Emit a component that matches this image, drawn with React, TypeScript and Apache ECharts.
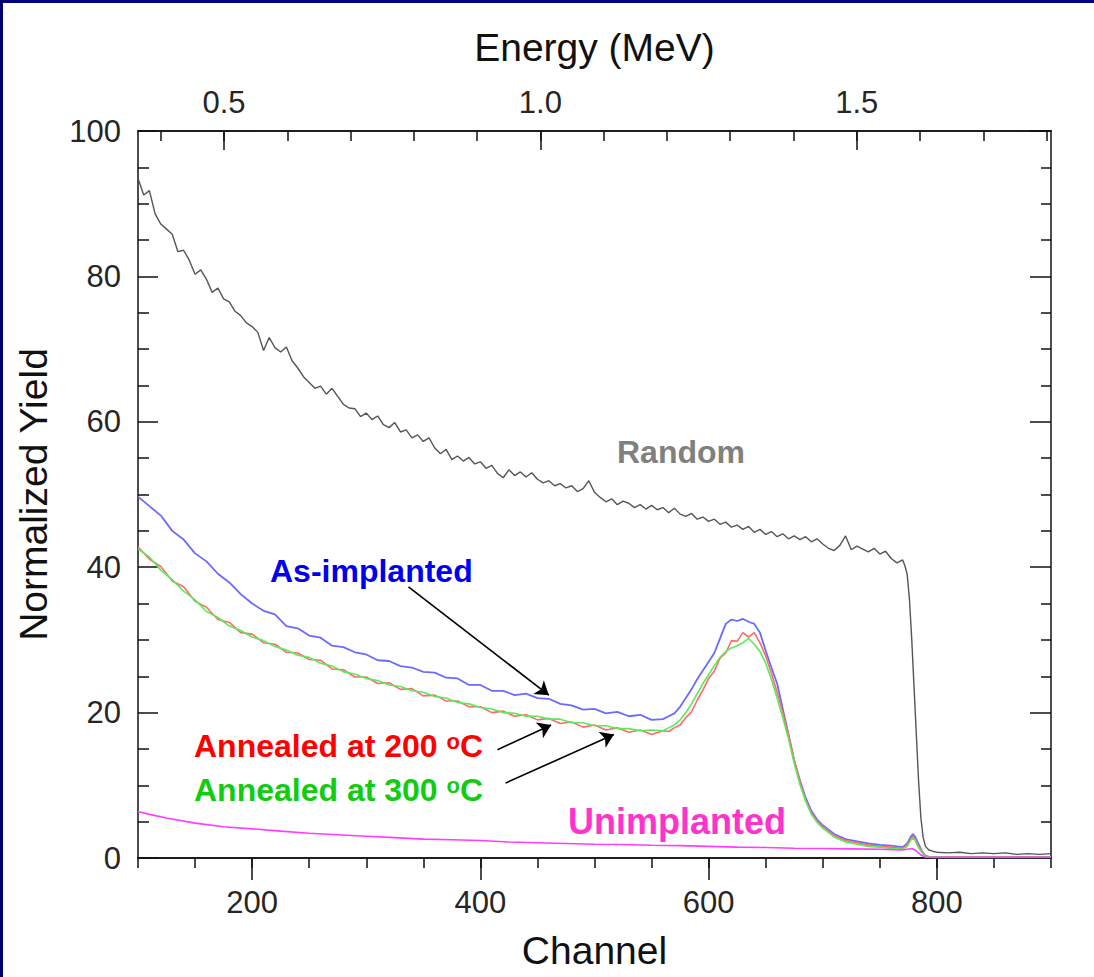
import React, { useEffect, useRef } from "react";
import * as echarts from "echarts";

// ---------- DATA ----------
// Random spectrum: regular 5-channel grid 100..770, then the edge drop and tail
const randomGridStart = 100;
const randomGridStep = 5;
const randomMainYield = [
  93.5, 91.2, 91.8, 88.6, 87.2, 86.5, 85.8, 83.4, 83.6, 82.2,
  80.3, 80.9, 79.6, 77.8, 78.4, 76.9, 76.5, 75.2, 74.6, 73.6,
  73.1, 72.3, 69.8, 71.6, 70.2, 69.6, 70.3, 68.4, 67.4, 66.2,
  65.4, 64.6, 64.9, 63.8, 64.6, 63.5, 62.4, 61.9, 61.8, 60.7,
  61.2, 60.3, 60.8, 59.6, 59.2, 59.9, 58.6, 58.9, 57.8, 58.2,
  57.3, 57.8, 56.4, 55.6, 56.2, 54.8, 55.3, 54.6, 55.1, 54.2,
  54.5, 53.6, 54.0, 52.9, 52.3, 53.4, 52.6, 53.1, 52.4, 53.0,
  52.1, 51.6, 51.9, 51.2, 51.5, 50.9, 51.2, 50.4, 50.8, 51.9,
  50.3, 49.6, 49.0, 49.4, 48.6, 49.1, 48.8, 48.2, 48.6, 48.0,
  48.5, 47.9, 48.2, 47.5, 48.1, 47.3, 47.0, 47.4, 46.6, 46.9,
  46.3, 46.6, 45.9, 46.2, 45.5, 45.8, 45.2, 45.6, 44.8, 45.2,
  44.5, 44.9, 44.2, 44.6, 43.9, 44.3, 43.8, 44.2, 43.5, 43.9,
  43.2, 42.6, 42.3, 43.0, 44.3, 42.4, 42.9, 42.5, 42.1, 42.6,
  41.8, 42.2, 41.2, 40.6, 41.0,
];
const randomTailChannels = [772, 774, 776, 778, 780, 782, 784, 786, 788, 790, 793, 797, 800, 810, 820, 830, 840, 850, 860, 870, 880, 890, 900];
const randomTailYield = [40.2, 39.0, 35.5, 30.0, 23.5, 17.0, 10.5, 5.5, 2.8, 1.6, 1.1, 0.9, 0.8, 0.7, 0.8, 0.6, 0.7, 0.6, 0.7, 0.5, 0.6, 0.5, 0.6];

// Implanted / annealed spectra share one channel list
const implChannels = [
  100, 110, 120, 130, 140, 150, 160, 170, 180, 190,
  200, 210, 220, 230, 240, 250, 260, 270, 280, 290,
  300, 310, 320, 330, 340, 350, 360, 370, 380, 390,
  400, 410, 420, 430, 440, 450, 460, 470, 480, 490,
  500, 510, 520, 530, 540, 550, 560,
  565, 570, 575, 580, 585, 590, 595, 600, 605, 610,
  615, 620, 625, 630, 635, 640, 645, 650, 655, 660,
  665, 670, 675, 680, 685, 690, 695, 700,
  710, 720, 730, 740, 750, 760, 770,
  774, 777, 779, 781, 784, 787, 790, 795,
  800, 825, 850, 875, 900,
];
const asImplanted = [
  49.7, 48.4, 47.1, 45.0, 43.8, 41.9, 40.8, 39.1, 37.9, 36.3,
  35.0, 34.0, 33.5, 31.9, 31.6, 30.6, 30.3, 29.2, 29.0, 28.3,
  28.0, 27.2, 27.1, 26.4, 26.2, 25.6, 25.5, 24.8, 24.7, 23.8,
  23.8, 23.0, 23.0, 22.4, 22.6, 22.0, 21.9, 21.2, 21.0, 20.4,
  20.5, 19.9, 20.1, 19.5, 19.7, 19.0, 19.1,
  19.5, 19.9, 20.8, 22.0, 23.2, 24.6, 25.8, 27.0, 28.2, 30.2,
  32.2, 32.8, 32.6, 32.9, 32.5, 32.2, 31.0, 28.5, 26.2, 24.0,
  20.5, 17.0, 13.4, 10.7, 8.3, 6.5, 5.3, 4.5,
  3.3, 2.6, 2.3, 2.0, 1.8, 1.7, 1.5,
  2.0, 2.9, 3.3, 2.9, 1.9, 0.9, 0.3, 0.1,
  0.1, 0.1, 0.1, 0.1, 0.1,
];
const annealed200 = [
  42.8, 41.1, 40.1, 38.1, 37.3, 35.3, 34.5, 32.8, 32.4, 31.0,
  30.8, 29.6, 29.4, 28.3, 28.2, 27.3, 27.2, 26.0, 25.9, 24.9,
  24.9, 24.0, 24.1, 23.2, 23.3, 22.3, 22.4, 21.6, 21.6, 20.8,
  20.8, 20.0, 20.2, 19.5, 19.7, 19.0, 19.2, 18.5, 18.7, 18.0,
  18.3, 17.6, 17.9, 17.3, 17.6, 17.0, 17.5,
  17.4, 17.9, 18.3, 19.3, 20.1, 21.7, 23.1, 24.7, 25.7, 27.5,
  28.2, 29.9, 29.8, 31.0, 30.4, 31.0, 29.6, 27.8, 25.4, 22.8,
  20.0, 17.0, 13.5, 10.5, 8.0, 6.2, 5.1, 4.3,
  3.1, 2.4, 2.1, 1.8, 1.6, 1.5, 1.3,
  1.8, 2.6, 3.0, 2.6, 1.6, 0.8, 0.3, 0.1,
  0.1, 0.1, 0.1, 0.1, 0.1,
];
const annealed300 = [
  42.5, 41.4, 39.6, 38.3, 36.7, 35.5, 33.9, 33.1, 31.9, 31.3,
  30.4, 29.9, 29.1, 28.6, 27.9, 27.6, 26.8, 26.4, 25.6, 25.3,
  24.7, 24.4, 23.8, 23.6, 23.0, 22.8, 22.2, 22.0, 21.4, 21.2,
  20.7, 20.5, 20.0, 19.9, 19.5, 19.5, 19.1, 19.1, 18.6, 18.6,
  18.2, 18.2, 17.8, 17.8, 17.5, 17.6, 17.5,
  17.9, 18.3, 19.0, 20.0, 21.2, 22.6, 24.0, 25.2, 26.5, 27.6,
  28.4, 28.9, 29.2, 29.6, 30.2, 29.4, 28.4, 26.8, 24.6, 22.0,
  19.3, 16.4, 13.0, 10.1, 7.8, 6.0, 4.9, 4.1,
  2.9, 2.2, 1.9, 1.6, 1.5, 1.3, 1.2,
  1.6, 2.4, 2.8, 2.4, 1.4, 0.7, 0.2, 0.1,
  0.1, 0.1, 0.1, 0.1, 0.1,
];

const unimplChannels = [100, 110, 125, 150, 175, 200, 225, 250, 275, 300, 325, 350, 375, 400, 425, 450, 475, 500, 525, 550, 575, 600, 625, 650, 675, 700, 725, 750, 770, 778, 782, 786, 790, 900];
const unimplanted = [6.4, 6.0, 5.5, 4.8, 4.3, 4.0, 3.7, 3.4, 3.2, 3.0, 2.8, 2.6, 2.5, 2.4, 2.2, 2.1, 2.0, 1.9, 1.85, 1.75, 1.7, 1.6, 1.5, 1.45, 1.35, 1.3, 1.25, 1.2, 1.1, 1.3, 1.0, 0.4, 0.1, 0.1];

// Axis ticks
const channelMajorTicks = [200, 400, 600, 800];
const channelMinorTicks = [100, 150, 200, 250, 300, 350, 400, 450, 500, 550, 600, 650, 700, 750, 800, 850, 900];
const energyMajorTicks = [0.5, 1.0, 1.5];
const energyMinorTicks = [0.4, 0.5, 0.6, 0.7, 0.8, 0.9, 1.0, 1.1, 1.2, 1.3, 1.4, 1.5, 1.6, 1.7, 1.8];
const energyRange = [0.364, 1.807]; // energy at channel 100 and 900

// Arrow annotations [fromChannel, fromYield, toChannel, toYield]
const arrows = [
  [337, 37.3, 460, 22.4],
  [415, 14.9, 462, 18.3],
  [422, 10.3, 517, 17.0],
];

const pairs = (xs: number[], ys: number[]) => xs.map((x, i) => [x, ys[i]]);

const FONT = '"Liberation Sans", Arial, Helvetica, sans-serif';

export default function App() {
  const ref = useRef<HTMLDivElement>(null);

  useEffect(() => {
    if (!ref.current) return;
    const chart = echarts.init(ref.current, null, { renderer: "svg" });

    const randomData = [
      ...randomMainYield.map((v, i) => [randomGridStart + randomGridStep * i, v]),
      ...pairs(randomTailChannels, randomTailYield),
    ];

    const axisLine = { show: true, lineStyle: { color: "#111", width: 1.5 } };
    const labelStyle = { color: "#262626", fontSize: 31, fontFamily: FONT };
    const nameStyle = { color: "#111", fontSize: 39, fontFamily: FONT };

    const boldText = (text: string, x: number, y: number, color: string, size = 32) => ({
      type: "text",
      x,
      y,
      z: 100,
      style: {
        text,
        fill: color,
        font: `bold ${size}px ${FONT}`,
        align: "left",
        verticalAlign: "middle",
        textAlign: "left",
        textVerticalAlign: "middle",
      },
    });

    const supText = (main: string, x: number, y: number, color: string) => ({
      type: "text",
      x,
      y,
      z: 100,
      style: {
        text: `{a|${main} }{s|o}{a|C}`,
        align: "left",
        verticalAlign: "middle",
        textAlign: "left",
        textVerticalAlign: "middle",
        rich: {
          a: { fill: color, fontSize: 32, fontWeight: "bold", fontFamily: FONT, verticalAlign: "bottom" },
          s: { fill: color, fontSize: 22, fontWeight: "bold", fontFamily: FONT, verticalAlign: "top" },
        },
      },
    });

    chart.setOption({
      animation: false,
      backgroundColor: "#ffffff",
      textStyle: { fontFamily: FONT },
      grid: { left: 138, top: 131, width: 913, height: 727 },
      xAxis: [
        {
          type: "value",
          position: "bottom",
          min: 100,
          max: 900,
          name: "Channel",
          nameLocation: "middle",
          nameGap: 73,
          nameTextStyle: nameStyle,
          axisLine,
          axisTick: { show: true, inside: false, length: 22, customValues: channelMajorTicks, lineStyle: { color: "#111", width: 1.5 } },
          axisLabel: { show: true, customValues: channelMajorTicks, margin: 29, ...labelStyle },
          splitLine: { show: false },
        },
        {
          type: "value",
          position: "bottom",
          min: 100,
          max: 900,
          axisLine,
          axisTick: { show: true, inside: false, length: 10, customValues: channelMinorTicks, lineStyle: { color: "#111", width: 1.5 } },
          axisLabel: { show: false },
          splitLine: { show: false },
        },
        {
          type: "value",
          position: "top",
          min: energyRange[0],
          max: energyRange[1],
          name: "Energy (MeV)",
          nameLocation: "middle",
          nameGap: 64,
          nameTextStyle: nameStyle,
          axisLine,
          axisTick: { show: true, inside: true, length: 19, customValues: energyMajorTicks, lineStyle: { color: "#111", width: 1.5 } },
          axisLabel: {
            show: true,
            customValues: energyMajorTicks,
            margin: 13,
            formatter: (v: number) => v.toFixed(1),
            ...labelStyle,
          },
          splitLine: { show: false },
        },
        {
          type: "value",
          position: "top",
          min: energyRange[0],
          max: energyRange[1],
          axisLine,
          axisTick: { show: true, inside: true, length: 10, customValues: energyMinorTicks, lineStyle: { color: "#111", width: 1.5 } },
          axisLabel: { show: false },
          splitLine: { show: false },
        },
      ],
      yAxis: [
        {
          type: "value",
          position: "left",
          min: 0,
          max: 100,
          interval: 20,
          name: "Normalized Yield",
          nameLocation: "middle",
          nameGap: 85,
          nameTextStyle: nameStyle,
          axisLine,
          axisTick: { show: true, inside: true, length: 20, lineStyle: { color: "#111", width: 1.5 } },
          minorTick: { show: true, splitNumber: 4, length: 11, lineStyle: { color: "#111", width: 1.5 } },
          axisLabel: { show: true, margin: 17, ...labelStyle },
          splitLine: { show: false },
          minorSplitLine: { show: false },
        },
        {
          type: "value",
          position: "right",
          min: 0,
          max: 100,
          interval: 20,
          axisLine,
          axisTick: { show: true, inside: true, length: 21, lineStyle: { color: "#111", width: 1.5 } },
          minorTick: { show: true, splitNumber: 4, length: 10, lineStyle: { color: "#111", width: 1.5 } },
          axisLabel: { show: false },
          splitLine: { show: false },
          minorSplitLine: { show: false },
        },
      ],
      series: [
        {
          name: "Random",
          type: "line",
          xAxisIndex: 0,
          yAxisIndex: 0,
          data: randomData,
          showSymbol: false,
          symbol: "none",
          lineStyle: { color: "#555555", width: 1.4 },
          z: 2,
        },
        {
          name: "As-implanted",
          type: "line",
          xAxisIndex: 0,
          yAxisIndex: 0,
          data: pairs(implChannels, asImplanted),
          showSymbol: false,
          symbol: "none",
          lineStyle: { color: "#6a6aff", width: 1.8 },
          z: 3,
        },
        {
          name: "Annealed at 200 oC",
          type: "line",
          xAxisIndex: 0,
          yAxisIndex: 0,
          data: pairs(implChannels, annealed200),
          showSymbol: false,
          symbol: "none",
          lineStyle: { color: "#ff6a6a", width: 1.6 },
          z: 4,
        },
        {
          name: "Annealed at 300 oC",
          type: "line",
          xAxisIndex: 0,
          yAxisIndex: 0,
          data: pairs(implChannels, annealed300),
          showSymbol: false,
          symbol: "none",
          lineStyle: { color: "#5aea5a", width: 1.6 },
          z: 5,
        },
        {
          name: "Unimplanted",
          type: "line",
          xAxisIndex: 0,
          yAxisIndex: 0,
          data: pairs(unimplChannels, unimplanted),
          showSymbol: false,
          symbol: "none",
          lineStyle: { color: "#ff3cff", width: 1.6 },
          z: 6,
          markLine: {
            silent: true,
            symbol: ["none", "arrow"],
            symbolSize: 13,
            label: { show: false },
            lineStyle: { color: "#000", width: 1.6, type: "solid" },
            emphasis: { disabled: true },
            data: arrows.map((a) => [
              { coord: [a[0], a[1]] },
              { coord: [a[2], a[3]] },
            ]),
          },
        },
      ],
      graphic: [
        { type: "rect", shape: { x: 0, y: 0, width: 1094, height: 3 }, style: { fill: "#000080" }, z: 200 },
        { type: "rect", shape: { x: 0, y: 0, width: 3, height: 977 }, style: { fill: "#000070" }, z: 200 },
        boldText("Random", 617, 452, "#808080"),
        boldText("As-implanted", 270, 571, "#0000f0"),
        supText("Annealed at 200", 194, 746, "#ff0000"),
        supText("Annealed at 300", 194, 790, "#11cc11"),
        boldText("Unimplanted", 568, 821, "#ff33cc", 36),
      ],
    });

    return () => chart.dispose();
  }, []);

  return (
    <div
      ref={ref}
      style={{ position: "fixed", left: 0, top: 0, width: 1094, height: 977, background: "#fff" }}
    />
  );
}
